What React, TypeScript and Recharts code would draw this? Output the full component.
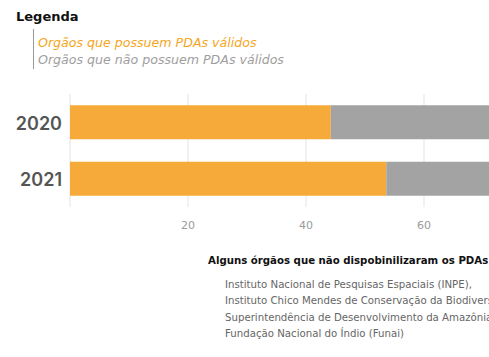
import React from 'react'
import { BarChart, Bar, XAxis, YAxis, CartesianGrid } from 'recharts'

const years = ['2020', '2021']
const comPda = [44.2, 53.6]
const semPda = [55.8, 46.4]
const xTicks = [20, 40, 60]

const legendItems = ['Orgãos que possuem PDAs válidos', 'Orgãos que não possuem PDAs válidos']
const orgaos = [
  'Instituto Nacional de Pesquisas Espaciais (INPE),',
  'Instituto Chico Mendes de Conservação da Biodiversidade (ICMBio),',
  'Superintendência de Desenvolvimento da Amazônia (Sudam),',
  'Fundação Nacional do Índio (Funai)',
]

const data = years.map((ano, i) => ({ ano, com: comPda[i], sem: semPda[i] }))

const ORANGE = '#F6AA3A'
const GRAY = '#A3A3A3'
const FONT = '"DejaVu Sans", sans-serif'

export default function App() {
  return (
    <div
      style={{
        position: 'fixed',
        top: 0,
        left: 0,
        width: 489,
        height: 357,
        overflow: 'hidden',
        background: '#fff',
        fontFamily: FONT,
      }}
    >
      {/* legenda */}
      <div style={{ position: 'absolute', left: 16, top: 9, fontSize: 13, fontWeight: 700, color: '#111' }}>
        Legenda
      </div>
      <div style={{ position: 'absolute', left: 33, top: 29, width: 1, height: 40, background: '#999' }} />
      <div style={{ position: 'absolute', left: 38, top: 35, fontSize: 12.6, fontStyle: 'italic', color: '#F5A623' }}>
        {legendItems[0]}
      </div>
      <div style={{ position: 'absolute', left: 38, top: 52, fontSize: 12.6, fontStyle: 'italic', color: '#9E9E9E' }}>
        {legendItems[1]}
      </div>

      <div style={{ position: 'absolute', left: 0, top: 0 }}>
        <BarChart
          width={700}
          height={237}
          data={data}
          layout="vertical"
          barCategoryGap="20%"
          margin={{ top: 94, right: 40, left: 0, bottom: 0 }}
        >
          <CartesianGrid horizontal={false} stroke="#e3e3e3" />
          <XAxis
            type="number"
            domain={[0, 100]}
            ticks={xTicks}
            tickLine={false}
            axisLine={false}
            tickMargin={8}
            height={30}
            tick={{ fill: '#9a9a9a', fontSize: 11, fontFamily: FONT }}
          />
          <YAxis
            type="category"
            dataKey="ano"
            width={70}
            tickLine={false}
            axisLine={false}
            tick={{ fill: '#555', fontSize: 18, fontWeight: 600, fontFamily: 'Inter, sans-serif', dy: 1 }}
          />
          <Bar dataKey="com" stackId="a" fill={ORANGE} isAnimationActive={false} />
          <Bar dataKey="sem" stackId="a" fill={GRAY} isAnimationActive={false} />
        </BarChart>
      </div>

      {/* órgãos sem PDA */}
      <div
        style={{
          position: 'absolute',
          left: 208,
          top: 255,
          fontSize: 10.2,
          fontWeight: 700,
          color: '#111',
          whiteSpace: 'nowrap',
        }}
      >
        Alguns órgãos que não dispobinilizaram os PDAs no prazo
      </div>
      <div style={{ position: 'absolute', left: 225, top: 277, whiteSpace: 'nowrap' }}>
        {orgaos.map((o) => (
          <div key={o} style={{ fontSize: 10.2, lineHeight: '16.4px', color: '#666' }}>
            {o}
          </div>
        ))}
      </div>
    </div>
  )
}
